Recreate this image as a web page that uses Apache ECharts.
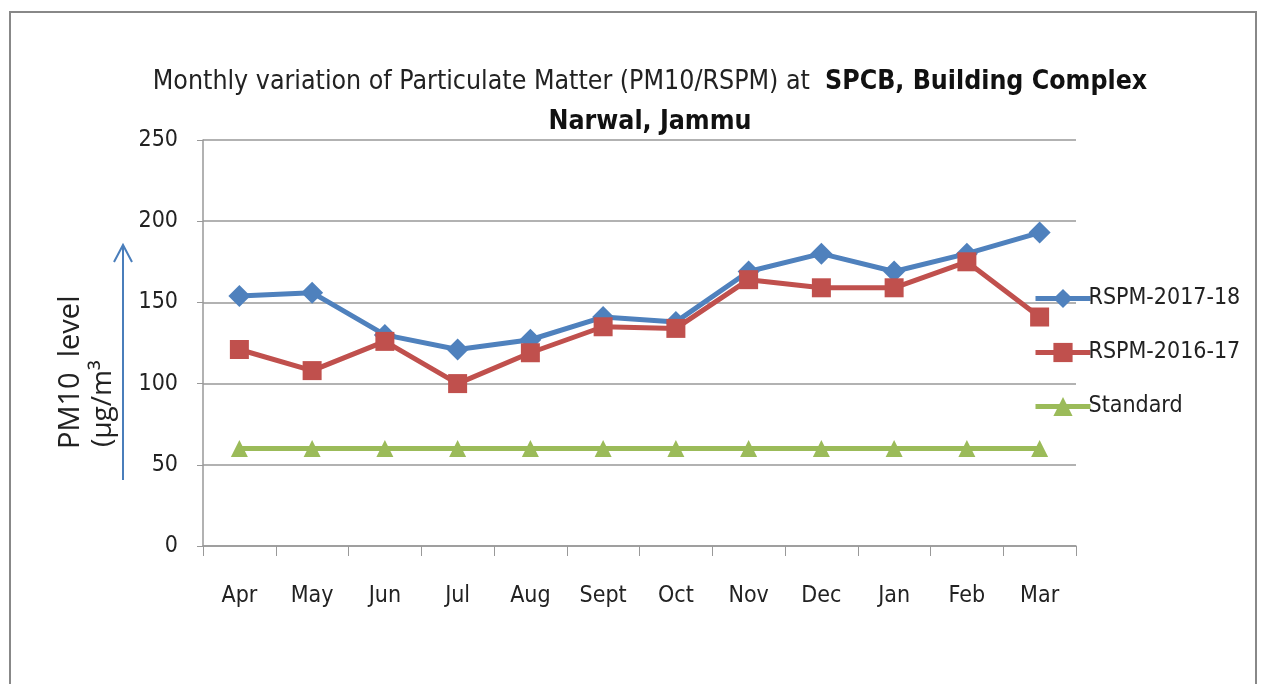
<!DOCTYPE html>
<html>
<head>
<meta charset="utf-8">
<script src="https://cdn.jsdelivr.net/npm/echarts@6/dist/echarts.min.js"></script>
<style>
  html, body { margin: 0; padding: 0; background: #fff; }
  #chart { width: 1268px; height: 684px; }
</style>
</head>
<body>
<div id="chart"></div>
<script>
var months = ['Apr', 'May', 'Jun', 'Jul', 'Aug', 'Sept', 'Oct', 'Nov', 'Dec', 'Jan', 'Feb', 'Mar'];
var rspm1718 = [154, 156, 130, 121, 127, 141, 138, 169, 180, 169, 180, 193];
var rspm1617 = [121, 108, 126, 100, 119, 135, 134, 164, 159, 159, 175, 141];
var standard = [60, 60, 60, 60, 60, 60, 60, 60, 60, 60, 60, 60];
var yTicks = [0, 50, 100, 150, 200, 250];

var font = '"Liberation Sans Narrow", "DejaVu Sans Condensed", "Open Sans", sans-serif';

var chart = echarts.init(document.getElementById('chart'), null, { renderer: 'canvas' });

var option = {
  backgroundColor: '#fff',
  animation: false,
  title: {
    left: 645,
    textAlign: 'center',
    top: 57,
    text: '{n|Monthly variation of Particulate Matter (PM10/RSPM) at  }{b|SPCB, Building Complex}\n{b|Narwal, Jammu}',
    textStyle: {
      fontWeight: 'normal',
      lineHeight: 40,
      rich: {
        n: { fontFamily: font, fontSize: 26.5, fontWeight: 'normal', color: '#222', lineHeight: 40 },
        b: { fontFamily: font, fontSize: 26.5, fontWeight: 'bold', color: '#111', lineHeight: 40 }
      }
    }
  },
  legend: {
    orient: 'vertical',
    left: 1028,
    top: 282,
    itemWidth: 55,
    itemHeight: 24,
    itemGap: 31,
    lineStyle: { width: 5 },
    textStyle: { fontFamily: font, fontSize: 23, color: '#222', padding: [0, 0, 0, -7] },
    data: ['RSPM-2017-18', 'RSPM-2016-17', 'Standard']
  },
  grid: { left: 203, right: 192, top: 140, bottom: 138 },
  xAxis: {
    type: 'category',
    data: months,
    boundaryGap: true,
    axisLine: { lineStyle: { color: '#999', width: 1.5 } },
    axisTick: { show: true, length: 10, inside: false, lineStyle: { color: '#999' } },
    axisLabel: { fontFamily: font, fontSize: 23, color: '#222', margin: 39, interval: 0 }
  },
  yAxis: {
    type: 'value',
    min: yTicks[0],
    max: yTicks[yTicks.length - 1],
    interval: 50,
    axisLine: { show: true, lineStyle: { color: '#999', width: 1.5 } },
    axisTick: { show: true, length: 6, lineStyle: { color: '#999' } },
    axisLabel: { fontFamily: font, fontSize: 23, color: '#222', margin: 25 },
    splitLine: { lineStyle: { color: '#999', width: 1.5 } }
  },
  series: [
    {
      name: 'RSPM-2017-18',
      type: 'line',
      data: rspm1718,
      symbol: 'diamond',
      symbolSize: 22,
      color: '#4F81BD',
      lineStyle: { width: 5, color: '#4F81BD' },
      itemStyle: { color: '#4F81BD' },
      z: 3
    },
    {
      name: 'RSPM-2016-17',
      type: 'line',
      data: rspm1617,
      symbol: 'rect',
      symbolSize: 19,
      color: '#C0504D',
      lineStyle: { width: 5, color: '#C0504D' },
      itemStyle: { color: '#C0504D' },
      z: 4
    },
    {
      name: 'Standard',
      type: 'line',
      data: standard,
      symbol: 'triangle',
      symbolSize: 17,
      color: '#9BBB59',
      lineStyle: { width: 5, color: '#9BBB59' },
      itemStyle: { color: '#9BBB59' },
      z: 2
    }
  ],
  graphic: [
    {
      type: 'rect',
      shape: { x: 10, y: 12, width: 1246, height: 700 },
      style: { fill: 'none', stroke: '#888', lineWidth: 2 },
      silent: true
    },
    {
      type: 'text',
      x: 71,
      y: 449,
      rotation: Math.PI / 2,
      style: { text: 'PM10  level', fontFamily: '"Open Sans", sans-serif', fontSize: 29, fill: '#222', textAlign: 'left', textVerticalAlign: 'middle' }
    },
    {
      type: 'text',
      x: 103,
      y: 447,
      rotation: Math.PI / 2,
      style: { text: '(µg/m³', fontFamily: '"Open Sans", sans-serif', fontSize: 28, fill: '#222', textAlign: 'left', textVerticalAlign: 'middle' }
    },
    {
      type: 'line',
      shape: { x1: 123, y1: 480, x2: 123, y2: 246 },
      style: { stroke: '#4A7EBB', lineWidth: 2 }
    },
    {
      type: 'polyline',
      shape: { points: [[114, 262], [123, 245], [132, 262]] },
      style: { stroke: '#4A7EBB', lineWidth: 2, fill: 'none' }
    }
  ]
};

chart.setOption(option);
</script>
</body>
</html>
